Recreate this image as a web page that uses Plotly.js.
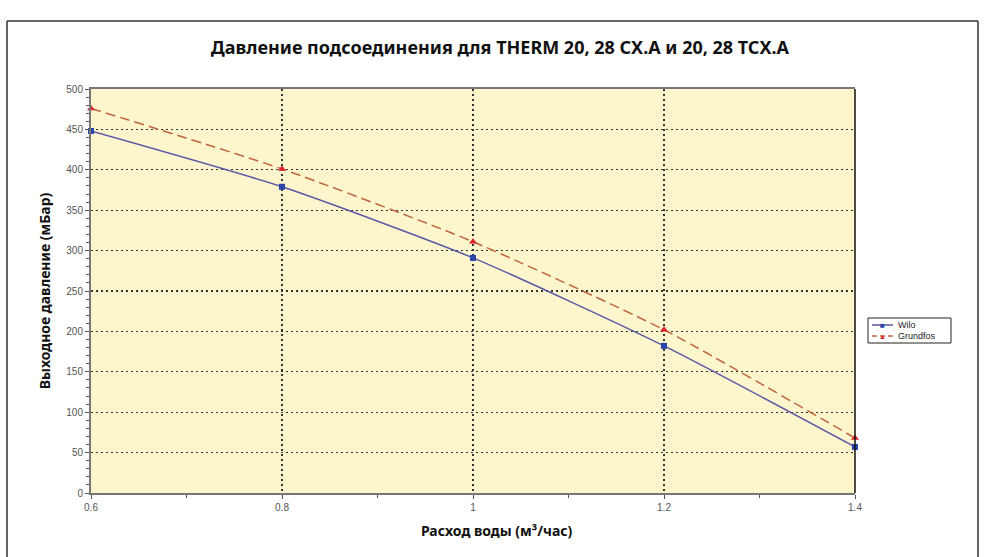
<!DOCTYPE html>
<html>
<head>
<meta charset="utf-8">
<script src="https://cdn.plot.ly/plotly-3.0.1.min.js"></script>
<style>html,body{margin:0;padding:0;background:#fff;}#chart{width:986px;height:557px;}</style>
</head>
<body>
<div id="chart"></div>
<script>
const flow = [0.6, 0.8, 1.0, 1.2, 1.4];
const wilo = [448, 379, 291, 182, 57];
const grundfos = [476, 401, 311, 202, 68];
const xTickVals = [0.6, 0.8, 1.0, 1.2, 1.4];
const xTickText = ['0.6', '0.8', '1', '1.2', '1.4'];
const seriesNames = ['Wilo', 'Grundfos'];
const chartTitle = 'Давление подсоединения для THERM 20, 28 CX.A и 20, 28 TCX.A';
const xTitle = 'Расход воды (м³/час)';
const yTitle = 'Выходное давление (мБар)';

const L = 91, R = 855, T = 89, B = 493;
const px = v => (v - L) / (R - L);
const py = v => (B - v) / (B - T);

const wiloLine = '#5a5aa6', wiloMarker = '#2a45a8';
const grLine = '#c0663c', grMarker = '#e0202a';

const traces = [
  {x: flow, y: wilo, name: seriesNames[0], mode: 'lines+markers', cliponaxis: false,
   line: {color: wiloLine, width: 1.5, shape: 'spline', smoothing: 0.6},
   marker: {symbol: 'square', size: 6, color: wiloMarker}},
  {x: flow, y: grundfos, name: seriesNames[1], mode: 'lines+markers', cliponaxis: false,
   line: {color: grLine, width: 1.5, dash: '10px,5px', shape: 'spline', smoothing: 0.6},
   marker: {symbol: 'triangle-up', size: 7, color: grMarker}}
];

// custom compact legend (box, sample lines, symbols, labels)
const lgL = 868, lgR = 951, lgT = 318, lgB = 343;
const rows = [325, 336];
const legendShapes = [
  {type: 'rect', xref: 'paper', yref: 'paper', x0: px(lgL), x1: px(lgR), y0: py(lgB), y1: py(lgT),
   line: {color: '#222', width: 1}, fillcolor: '#ffffff', layer: 'above'},
  {type: 'line', xref: 'paper', yref: 'paper', x0: px(872), x1: px(893), y0: py(rows[0]), y1: py(rows[0]),
   line: {color: wiloLine, width: 1.5}},
  {type: 'line', xref: 'paper', yref: 'paper', x0: px(872), x1: px(893), y0: py(rows[1]), y1: py(rows[1]),
   line: {color: grLine, width: 1.5, dash: '5px,3px'}}
];
const legendAnn = [
  {text: '■', x: px(882.5), y: py(rows[0]), color: wiloMarker, size: 8},
  {text: '▲', x: px(882.5), y: py(rows[1]), color: grMarker, size: 7},
  {text: seriesNames[0], x: px(896), y: py(rows[0]), color: '#222', size: 9, left: true},
  {text: seriesNames[1], x: px(896), y: py(rows[1]), color: '#222', size: 9, left: true}
].map(a => ({xref: 'paper', yref: 'paper', x: a.x, y: a.y, text: a.text, showarrow: false,
  xanchor: a.left ? 'left' : 'center', yanchor: 'middle',
  font: {family: 'Liberation Sans, Arial, sans-serif', size: a.size, color: a.color}}));

const layout = {
  width: 986, height: 557,
  margin: {l: L, r: 986 - R, t: T, b: 557 - B},
  paper_bgcolor: '#ffffff',
  plot_bgcolor: '#fdf5cc',
  font: {family: 'Liberation Sans, Arial, sans-serif', color: '#444', size: 10},
  title: {text: '<b>' + chartTitle + '</b>', x: 0.507, xanchor: 'center', y: 0.915, yanchor: 'middle',
          font: {family: 'Noto Sans, sans-serif', size: 18, color: '#111'}},
  xaxis: {
    range: [0.6, 1.4], tickvals: xTickVals, ticktext: xTickText,
    showgrid: true, gridcolor: '#333', griddash: '2px,3px', gridwidth: 1.3,
    showline: true, linecolor: '#777', linewidth: 2, mirror: true,
    ticks: 'outside', ticklen: 4, tickcolor: '#555',
    minor: {dtick: 0.1, ticks: 'outside', ticklen: 3, tickcolor: '#555', showgrid: false},
    tickfont: {size: 10, color: '#555'}, zeroline: false
  },
  yaxis: {
    range: [0, 500], dtick: 50,
    showgrid: true, gridcolor: '#333', griddash: '2px,3px', gridwidth: 1.3,
    showline: true, linecolor: '#777', linewidth: 2,
    ticks: 'outside', ticklen: 4, tickcolor: '#555',
    minor: {dtick: 10, ticks: 'outside', ticklen: 3, tickcolor: '#555', showgrid: false},
    tickfont: {size: 10, color: '#555'}, zeroline: false,
    title: {text: '<b>' + yTitle + '</b>', standoff: 12,
            font: {family: 'Noto Sans, sans-serif', size: 14, color: '#111'}}
  },
  showlegend: false,
  annotations: [
    {xref: 'paper', yref: 'paper', x: px(497), y: py(530), text: '<b>' + xTitle + '</b>', showarrow: false,
     xanchor: 'center', yanchor: 'middle', font: {family: 'Noto Sans, sans-serif', size: 14, color: '#111'}}
  ].concat(legendAnn),
  shapes: [
    {type: 'line', xref: 'paper', yref: 'paper', x0: px(855), x1: px(855), y0: 0, y1: 1,
     line: {color: '#111', width: 1.5}},
    {type: 'line', xref: 'paper', yref: 'paper', x0: px(7), x1: px(978), y0: py(21), y1: py(21),
     line: {color: '#333', width: 1.5}},
    {type: 'line', xref: 'paper', yref: 'paper', x0: px(7), x1: px(7), y0: py(21), y1: py(557),
     line: {color: '#333', width: 1.5}},
    {type: 'line', xref: 'paper', yref: 'paper', x0: px(978), x1: px(978), y0: py(21), y1: py(557),
     line: {color: '#333', width: 1.5}}
  ].concat(legendShapes)
};

Plotly.newPlot('chart', traces, layout, {displayModeBar: false, staticPlot: true});
</script>
</body>
</html>
